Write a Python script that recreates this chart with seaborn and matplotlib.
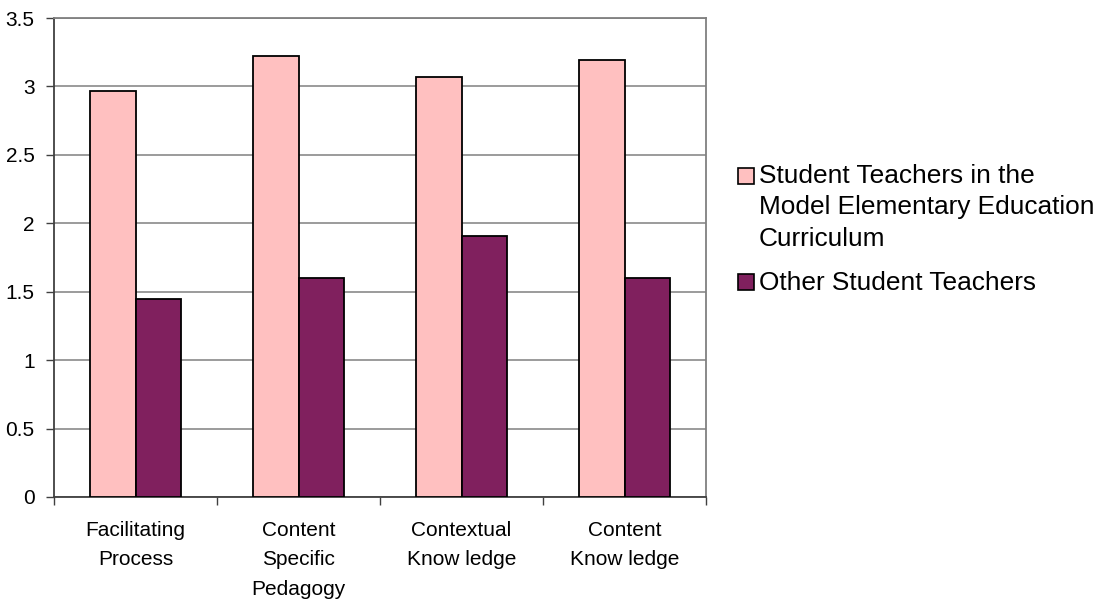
import matplotlib
matplotlib.use("Agg")
import matplotlib.pyplot as plt
import seaborn as sns
import pandas as pd
from matplotlib.ticker import FixedLocator, FuncFormatter
from matplotlib.patches import Rectangle

categories = ["Facilitating\nProcess", "Content\nSpecific\nPedagogy",
              "Contextual\nKnow ledge", "Content\nKnow ledge"]
series_names = ["Student Teachers in the\nModel Elementary Education\nCurriculum",
                "Other Student Teachers"]
model_values = [2.97, 3.22, 3.07, 3.19]
other_values = [1.45, 1.60, 1.91, 1.60]
y_ticks = [0, 0.5, 1, 1.5, 2, 2.5, 3, 3.5]

colors = ["#FFC0C0", "#80205E"]

df = pd.DataFrame({
    "category": categories * 2,
    "series": [series_names[0]] * 4 + [series_names[1]] * 4,
    "value": model_values + other_values,
})

sns.set_theme(style="white")
plt.rcParams["font.family"] = ["Liberation Sans", "DejaVu Sans"]
plt.rcParams["text.color"] = "black"

W, H = 1100, 605
fig = plt.figure(figsize=(W / 100, H / 100), dpi=100)
ax = fig.add_axes([54 / W, 1 - 497 / H, (706 - 54) / W, (497 - 18) / H])

sns.barplot(data=df, x="category", y="value", hue="series", order=categories,
            hue_order=series_names, palette=colors, width=0.56,
            edgecolor="black", linewidth=1.3, saturation=1, ax=ax, legend=False, zorder=3)

ax.set_xlim(-0.5, 3.5)
ax.set_ylim(0, 3.5)
ax.yaxis.set_major_locator(FixedLocator(y_ticks))
ax.yaxis.set_major_formatter(FuncFormatter(lambda v, p: f"{v:g}"))
ax.grid(axis="y", color="#808080", linewidth=1.1, zorder=0)
ax.set_axisbelow(True)
ax.set_xlabel("")
ax.set_ylabel("")

ax.xaxis.set_minor_locator(FixedLocator([-0.5, 0.5, 1.5, 2.5, 3.5]))
ax.tick_params(axis="x", which="major", length=0, pad=17, labelsize=15, labelcolor="black")
ax.tick_params(axis="x", which="minor", length=6, width=1, color="#404040", direction="out", bottom=True)
ax.tick_params(axis="y", which="major", length=6, width=1, color="#404040", direction="out",
               left=True, pad=8, labelsize=15, labelcolor="black")
for lbl in ax.get_xticklabels():
    lbl.set_linespacing(1.72)

for s in ["left", "bottom"]:
    ax.spines[s].set_color("#404040")
    ax.spines[s].set_linewidth(1.3)
for s in ["top", "right"]:
    ax.spines[s].set_color("#808080")
    ax.spines[s].set_linewidth(1.3)

# legend (Excel-style: square aligned with first line of each entry)
entry_baselines = [[183.5, 214.5, 245.5], [290]]
box_tops = [168, 274]
for name, color, bases, top in zip(series_names, colors, entry_baselines, box_tops):
    fig.patches.append(Rectangle((738 / W, 1 - (top + 16) / H), 16 / W, 16 / H,
                                 transform=fig.transFigure, facecolor=color,
                                 edgecolor="black", linewidth=1.2))
    for line, b in zip(name.split("\n"), bases):
        fig.text(759 / W, 1 - b / H, line, fontsize=18.9, color="black",
                 ha="left", va="baseline")

fig.savefig("out.png", dpi=100)
